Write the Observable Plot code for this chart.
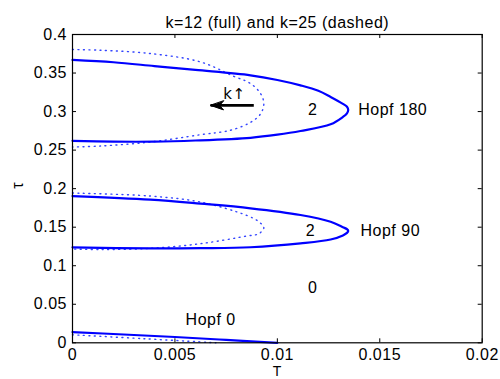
<!DOCTYPE html>
<html>
<head>
<meta charset="utf-8">
<script src="https://cdn.jsdelivr.net/npm/d3@7"></script>
<script src="https://cdn.jsdelivr.net/npm/@observablehq/plot@0.6"></script>
<style>
  html, body { margin: 0; padding: 0; background: white; }
  svg text { letter-spacing: 0.5px; }
</style>
</head>
<body>
<div id="chart"></div>
<script>
// ---- data (T, tau) ----
const hopf180Full = [
  [0, 0.367], [0.002, 0.364], [0.004, 0.359], [0.006, 0.354], [0.00869, 0.347],
  [0.0100, 0.341], [0.01113, 0.334], [0.0120, 0.327], [0.0126, 0.319], [0.0132, 0.310],
  [0.0134, 0.3062], [0.01346, 0.302], [0.0134, 0.2978],
  [0.0132, 0.293], [0.0126, 0.2835], [0.01113, 0.2748], [0.0100, 0.270], [0.00869, 0.266],
  [0.006, 0.2625], [0.004, 0.261], [0.002, 0.261], [0, 0.262]
];
const hopf180Dashed = [
  [0, 0.3805], [0.00137, 0.3796], [0.0038, 0.3753], [0.00625, 0.3644], [0.00787, 0.3458],
  [0.00869, 0.3364], [0.00918, 0.3234], [0.00934, 0.3104],
  [0.00918, 0.297], [0.00869, 0.286], [0.0077, 0.2757], [0.00625, 0.270], [0.0038, 0.2605],
  [0.00137, 0.2553], [0, 0.254]
];
const hopf90Full = [
  [0, 0.1904], [0.0038, 0.1857], [0.00625, 0.1805], [0.00869, 0.1745], [0.01113, 0.1658],
  [0.0126, 0.1570], [0.0132, 0.150], [0.0134, 0.1474], [0.01346, 0.145], [0.0134, 0.1426],
  [0.0132, 0.1393], [0.0126, 0.1340], [0.01113, 0.1290], [0.00869, 0.1240], [0.00625, 0.1228],
  [0.0038, 0.1225], [0, 0.1238]
];
const hopf90Dashed = [
  [0, 0.1943], [0.0038, 0.1904], [0.00625, 0.1826], [0.0085, 0.1653], [0.0091, 0.157],
  [0.00934, 0.149],
  [0.0091, 0.1416], [0.0085, 0.1385], [0.00625, 0.1286], [0.0038, 0.1225], [0.00137, 0.121],
  [0, 0.1216]
];
const hopf0Full = [[0, 0.0138], [0.0025, 0.0108], [0.005, 0.0075], [0.0075, 0.0038], [0.0100, 0]];
const hopf0Dashed = [[0, 0.0104], [0.0035, 0.0053], [0.0070, 0]];

// region counts (centered) and curve names (left-aligned)
const countTexts = ["2", "2", "0"];
const countT     = [0.01173, 0.01162, 0.01173];
const countTau   = [0.3026, 0.145, 0.0714];
const nameTexts  = ["Hopf 180", "Hopf 90", "Hopf 0"];
const nameT      = [0.01395, 0.01406, 0.00552];
const nameTau    = [0.3026, 0.145, 0.0299];
const arrowText  = "k\u2191";
const arrowTextPos = [0.0079, 0.323];

const arrowFrom = [0.00885, 0.308];
const arrowTo   = [0.00674, 0.308];

const xTicks = [0, 0.005, 0.01, 0.015, 0.02];
const xTickLabels = ["0", "0.005", "0.01", "0.015", "0.02"];
const yTicks = [0, 0.05, 0.1, 0.15, 0.2, 0.25, 0.3, 0.35, 0.4];
const yTickLabels = ["0", "0.05", "0.1", "0.15", "0.2", "0.25", "0.3", "0.35", "0.4"];

const title = "k=12 (full) and k=25 (dashed)";
const xLabel = "T";
const yLabel = "\u03c4";

// ---- layout ----
const W = 500, H = 379;
const mL = 72, mR = 18.3, mT = 34, mB = 36.7;
const pw = W - mL - mR, ph = H - mT - mB;
const font = "Liberation Sans, Arial, Helvetica, sans-serif";
const fs = 16;

const counts = countTexts.map((t, i) => ({t, x: countT[i], y: countTau[i]}));
const names = nameTexts.map((t, i) => ({t, x: nameT[i], y: nameTau[i]}));
const toObj = arr => arr.map(([x, y]) => ({x, y}));
const blue = "#0000ff";

const solidLine = arr => Plot.line(toObj(arr), {x: "x", y: "y", stroke: blue, strokeWidth: 2.2, curve: "catmull-rom"});
const dottedLine = arr => Plot.line(toObj(arr), {x: "x", y: "y", stroke: "#3344ff", strokeWidth: 1.4, strokeDasharray: "1,4.5", curve: "catmull-rom"});

const arrowHeadShape = {
  draw(context, l) {
    context.moveTo(0, -l);
    context.lineTo(-4.5, 0);
    context.lineTo(0, -l * 0.3);
    context.lineTo(4.5, 0);
    context.closePath();
  }
};

const chart = Plot.plot({
  width: W, height: H,
  marginLeft: mL, marginRight: mR, marginTop: mT, marginBottom: mB,
  style: {fontFamily: font, fontSize: fs + "px", background: "white", color: "black"},
  x: {domain: [0, 0.02]},
  y: {domain: [0, 0.4]},
  marks: [
    dottedLine(hopf180Dashed),
    dottedLine(hopf90Dashed),
    dottedLine(hopf0Dashed),
    solidLine(hopf180Full),
    solidLine(hopf90Full),
    solidLine(hopf0Full),
    Plot.link([0], {x1: () => arrowFrom[0], y1: () => arrowFrom[1], x2: () => arrowTo[0], y2: () => arrowTo[1],
      stroke: "black", strokeWidth: 2.6, insetEnd: 4}),
    Plot.vector([0], {x: () => arrowTo[0], y: () => arrowTo[1], anchor: "end", rotate: -90, length: 13,
      shape: arrowHeadShape, fill: "black", stroke: "black", strokeWidth: 1}),
    Plot.text([arrowText], {x: () => arrowTextPos[0], y: () => arrowTextPos[1], fontSize: 15,
      fontFamily: "DejaVu Sans, Liberation Sans, sans-serif", fill: "black"}),
    Plot.text(counts, {x: "x", y: "y", text: "t", textAnchor: "middle", fontSize: fs, fill: "black"}),
    Plot.text(names, {x: "x", y: "y", text: "t", textAnchor: "start", fontSize: fs, fill: "black"}),
    // inward ticks
    Plot.tickY(yTicks, {y: d => d, insetRight: pw - 4, stroke: "black"}),
    Plot.tickY(yTicks, {y: d => d, insetLeft: pw - 4, stroke: "black"}),
    Plot.tickX(xTicks, {x: d => d, insetTop: ph - 4, stroke: "black"}),
    Plot.tickX(xTicks, {x: d => d, insetBottom: ph - 4, stroke: "black"}),
    Plot.axisX(xTicks, {tickSize: 0, tickPadding: 6, fontSize: fs, tickFormat: d => xTickLabels[xTicks.indexOf(d)], label: null}),
    Plot.axisY(yTicks, {tickSize: 0, tickPadding: 5.5, fontSize: fs, tickFormat: d => yTickLabels[yTicks.indexOf(d)], label: null}),
    Plot.frame({stroke: "black", strokeWidth: 1.2}),
    Plot.text([title], {frameAnchor: "top", dy: -17.5, fontSize: fs, fill: "black"}),
    Plot.text([xLabel], {frameAnchor: "bottom", dy: 23.7, lineAnchor: "top", fontSize: 14, fill: "black"}),
    Plot.text([yLabel], {frameAnchor: "left", dx: -55, rotate: -90, fontSize: fs, fill: "black"})
  ]
});
document.getElementById("chart").appendChild(chart);
</script>
</body>
</html>
